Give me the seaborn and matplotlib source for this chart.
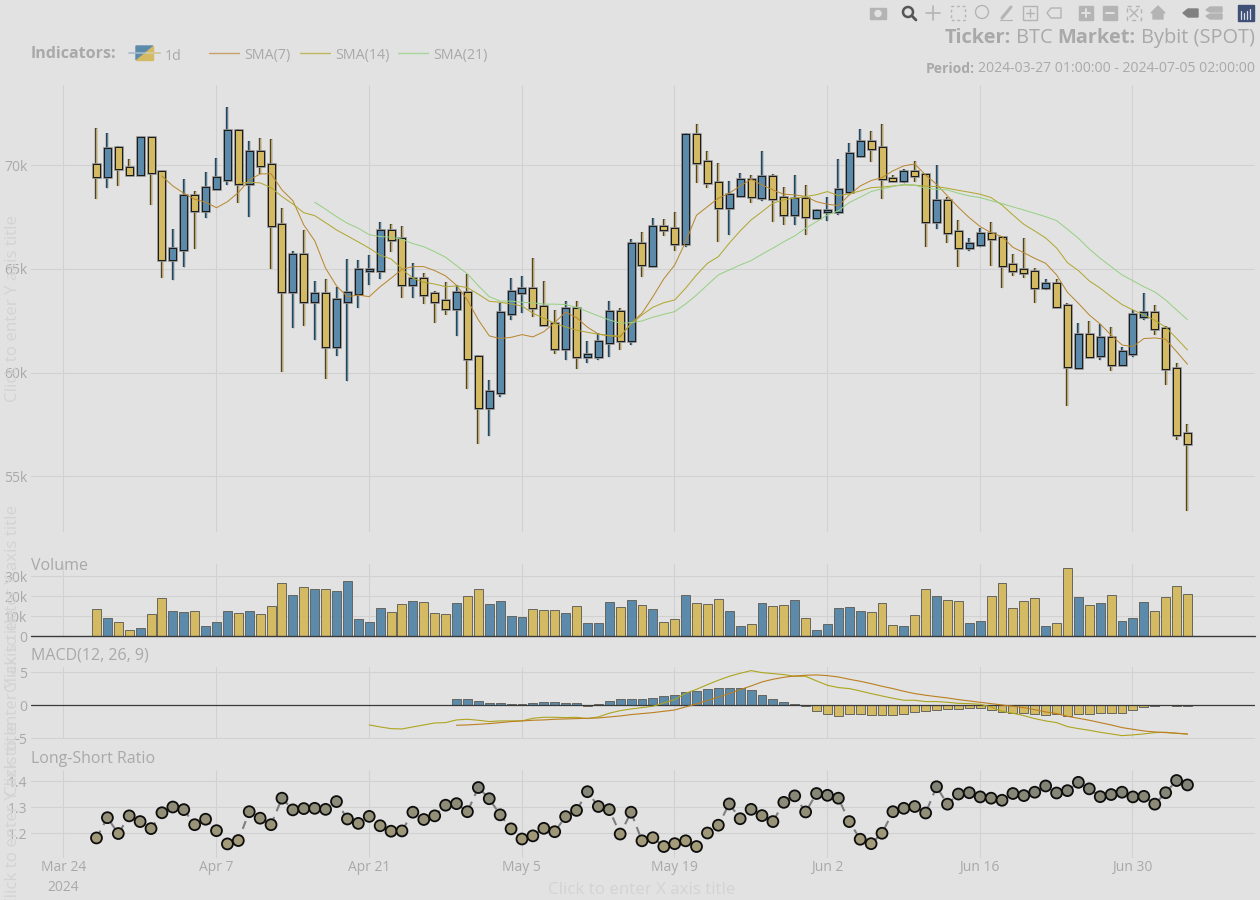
import matplotlib
matplotlib.use("Agg")
import matplotlib.pyplot as plt
import matplotlib.dates as mdates
import matplotlib.patheffects as pe
from matplotlib.colors import LinearSegmentedColormap
from matplotlib.patches import Polygon, Rectangle, Circle
import numpy as np
import pandas as pd
import seaborn as sns

# prices in thousands
opens = [70.06, 69.42, 70.87, 69.90, 69.55, 71.35, 69.71, 65.42, 65.91, 68.55,
         67.78, 68.84, 69.31, 71.69, 69.11, 70.69, 70.08, 67.15, 63.87, 65.72,
         63.39, 63.84, 61.22, 63.41, 63.78, 64.89, 64.89, 66.86, 66.48, 64.24,
         64.55, 63.83, 63.50, 63.07, 63.90, 60.80, 58.30, 59.00, 62.83, 63.84,
         64.07, 63.21, 62.38, 61.14, 63.13, 60.74, 60.77, 61.41, 62.99, 61.52,
         66.27, 65.16, 67.06, 66.96, 66.22, 71.50, 70.22, 69.21, 67.93, 68.52,
         69.34, 68.44, 69.48, 68.46, 67.59, 68.42, 67.47, 67.73, 67.73, 68.73,
         70.46, 71.17, 70.87, 69.40, 69.24, 69.71, 69.58, 67.28, 68.31, 66.82,
         66.00, 66.17, 66.72, 66.54, 65.22, 65.01, 64.92, 64.08, 64.31, 63.25,
         60.24, 61.85, 60.79, 61.73, 60.38, 60.91, 62.70, 62.94, 62.17, 60.24,
         57.10]
closes = [69.42, 70.85, 69.81, 69.55, 71.37, 69.61, 65.42, 66.01, 68.55, 67.78,
          68.94, 69.42, 71.69, 69.11, 70.69, 69.97, 67.07, 63.87, 65.72, 63.39,
          63.84, 61.22, 63.54, 63.87, 64.98, 65.01, 66.86, 66.38, 64.24, 64.55,
          63.73, 63.41, 63.07, 63.90, 60.64, 58.30, 59.09, 62.92, 63.95, 64.07,
          63.10, 62.28, 61.14, 63.13, 60.74, 60.88, 61.54, 62.99, 61.52, 66.27,
          65.19, 67.06, 66.86, 66.22, 71.51, 70.11, 69.13, 67.93, 68.62, 69.34,
          68.46, 69.48, 68.36, 67.59, 68.42, 67.49, 67.84, 67.83, 68.86, 70.59,
          71.17, 70.77, 69.32, 69.24, 69.71, 69.47, 67.28, 68.31, 66.72, 66.00,
          66.27, 66.72, 66.43, 65.13, 64.92, 64.82, 64.10, 64.31, 63.15, 60.26,
          61.85, 60.77, 61.73, 60.38, 61.03, 62.83, 62.94, 62.09, 60.16, 57.00,
          56.54]
highs = [71.78, 71.54, 70.93, 70.32, 71.38, 71.36, 69.72, 66.91, 69.32, 68.75,
         69.69, 70.34, 72.80, 71.77, 71.19, 71.32, 71.25, 67.93, 65.85, 66.86,
         64.40, 64.50, 64.11, 65.47, 65.43, 65.69, 67.25, 67.18, 67.07, 65.30,
         64.82, 63.92, 64.36, 64.21, 64.74, 60.85, 59.63, 63.34, 64.55, 64.65,
         65.51, 64.40, 63.01, 63.44, 63.45, 61.51, 61.90, 63.47, 63.10, 66.45,
         66.77, 67.44, 67.40, 67.73, 71.54, 71.99, 70.68, 70.10, 69.26, 69.61,
         69.55, 70.69, 69.58, 68.94, 69.52, 69.05, 67.88, 68.46, 70.29, 71.08,
         71.77, 71.65, 71.99, 69.55, 69.84, 70.22, 69.58, 70.03, 68.46, 67.38,
         66.48, 66.96, 67.28, 66.58, 65.72, 66.48, 65.06, 64.52, 64.50, 63.36,
         62.41, 62.47, 62.36, 62.21, 61.22, 63.03, 63.85, 63.28, 62.26, 60.48,
         57.54]
lows = [68.36, 68.92, 69.00, 69.55, 69.55, 68.07, 64.58, 64.45, 65.08, 65.96,
        67.47, 68.84, 69.04, 68.20, 67.52, 69.58, 65.01, 60.01, 62.14, 62.26,
        61.59, 59.68, 60.80, 59.58, 63.10, 64.24, 64.53, 65.80, 63.61, 63.61,
        63.32, 62.41, 62.76, 61.78, 59.19, 56.55, 56.95, 58.81, 62.55, 62.89,
        62.70, 62.28, 60.90, 60.62, 60.19, 60.48, 60.59, 60.75, 61.10, 61.35,
        64.61, 65.16, 66.58, 65.88, 66.07, 69.16, 68.90, 66.31, 66.62, 68.52,
        68.17, 68.26, 67.28, 67.13, 67.13, 66.65, 67.47, 67.30, 67.62, 68.60,
        70.40, 70.14, 68.39, 69.18, 69.16, 69.18, 66.04, 66.91, 66.27, 65.08,
        65.85, 66.04, 65.14, 64.07, 64.67, 64.56, 63.37, 63.97, 63.15, 58.39,
        60.24, 60.72, 60.61, 60.06, 60.38, 60.74, 62.54, 61.81, 59.39, 56.75,
        53.34]

sma_7 = [69.48, 69.00, 68.65, 68.36, 68.22, 67.95, 68.24, 68.68, 69.29, 69.58,
         69.59, 68.81, 68.29, 67.12, 66.36, 65.03, 64.18, 63.66, 63.74, 63.66,
         64.14, 64.55, 64.98, 65.11, 65.11, 64.92, 64.66, 64.21, 63.50, 62.54,
         61.77, 61.64, 61.70, 61.83, 61.72, 61.97, 62.41, 62.92, 62.65, 62.19,
         61.86, 61.77, 61.72, 62.38, 62.86, 63.66, 64.52, 65.19, 66.31, 67.59,
         68.00, 68.41, 68.65, 69.00, 69.32, 69.05, 68.81, 68.60, 68.57, 68.49,
         68.24, 68.12, 68.05, 68.57, 69.00, 69.26, 69.40, 69.73, 69.97, 70.06,
         69.53, 69.08, 68.52, 67.97, 67.47, 67.04, 66.75, 66.56, 66.04, 65.78,
         65.51, 65.27, 64.71, 63.87, 63.34, 62.78, 62.34, 61.81, 61.33, 61.25,
         61.64, 61.67, 61.61, 61.01, 60.40]
sma_14 = [69.12, 69.18, 69.15, 68.92, 68.49, 68.13, 67.71, 67.57, 67.23, 66.88,
          66.59, 66.30, 66.00, 65.66, 65.48, 65.00, 64.55, 64.36, 64.27, 64.14,
          64.18, 64.10, 63.78, 63.44, 63.39, 63.31, 63.21, 62.86, 62.62, 62.38,
          62.20, 62.05, 61.94, 61.85, 61.78, 61.77, 62.34, 62.78, 63.15, 63.37,
          63.50, 64.07, 64.71, 65.27, 65.59, 66.24, 66.83, 67.36, 67.76, 68.17,
          68.33, 68.41, 68.49, 68.58, 68.73, 68.53, 68.62, 68.76, 68.92, 68.95,
          69.00, 69.05, 69.04, 68.99, 68.97, 68.89, 68.79, 68.70, 68.60, 68.44,
          68.08, 67.60, 67.15, 66.83, 66.49, 66.01, 65.30, 64.92, 64.42, 64.07,
          63.66, 63.28, 63.02, 62.78, 62.52, 62.19, 61.65, 61.09]
sma_21 = [68.22, 67.88, 67.52, 67.20, 66.96, 66.65, 66.56, 66.53, 66.43, 66.22,
          66.07, 65.83, 65.56, 65.16, 64.76, 64.19, 63.66, 63.45, 63.44, 63.39,
          63.36, 63.30, 63.30, 63.28, 63.15, 62.94, 62.73, 62.54, 62.38, 62.41,
          62.49, 62.67, 62.81, 62.94, 63.31, 63.74, 64.23, 64.71, 64.95, 65.19,
          65.40, 65.71, 66.00, 66.31, 66.59, 66.96, 67.28, 67.60, 67.80, 68.20,
          68.46, 68.73, 68.86, 68.97, 69.08, 69.04, 68.89, 68.84, 68.81, 68.65,
          68.52, 68.44, 68.29, 68.15, 67.99, 67.84, 67.68, 67.52, 67.33, 66.91,
          66.48, 65.96, 65.51, 65.11, 64.71, 64.43, 64.14, 63.89, 63.50, 63.02,
          62.55]

volumes = [13.8, 9.2, 7.3, 3.2, 4.2, 11.3, 19.3, 12.5, 12.2, 12.8,
           5.2, 7.2, 12.5, 11.8, 12.5, 11.0, 15.3, 26.5, 20.8, 24.8,
           23.5, 23.8, 22.7, 27.8, 8.5, 7.0, 14.3, 12.3, 16.2, 17.5,
           17.0, 11.5, 11.0, 16.5, 20.2, 23.8, 16.2, 17.7, 10.2, 9.5,
           13.8, 13.0, 13.2, 11.8, 15.3, 6.5, 6.5, 17.2, 14.5, 18.3,
           15.8, 13.5, 7.3, 8.8, 20.5, 16.5, 16.0, 18.8, 12.5, 5.2,
           6.3, 16.5, 15.3, 15.8, 18.0, 9.0, 3.2, 6.0, 14.3, 14.5,
           12.8, 12.0, 16.5, 5.7, 5.0, 10.8, 23.5, 20.2, 18.3, 17.7,
           6.5, 7.7, 20.2, 26.5, 14.2, 17.7, 19.0, 5.0, 6.8, 34.3,
           19.5, 15.7, 16.7, 20.7, 7.8, 9.2, 17.0, 12.5, 19.8, 25.3,
           21.2]

macd_hist = [0.91, 0.91, 0.60, 0.30, 0.30, 0.25, 0.15, 0.40, 0.45, 0.45,
             0.40, 0.30, -0.05, 0.20, 0.60, 0.90, 1.00, 1.00, 1.15, 1.35,
             1.55, 2.05, 2.10, 2.40, 2.55, 2.60, 2.55, 2.30, 1.50, 0.90,
             0.45, 0.15, -0.15, -0.85, -1.35, -1.55, -1.35, -1.35, -1.40, -1.40,
             -1.40, -1.30, -0.95, -0.90, -0.65, -0.55, -0.55, -0.35, -0.45, -0.75,
             -1.05, -1.15, -1.20, -1.35, -1.40, -1.35, -1.55, -1.35, -1.25, -1.20,
             -1.20, -1.15, -0.75, -0.30, -0.05, 0.05, -0.05, -0.10]
macd_line = [-2.98, -3.28, -3.54, -3.59, -3.28, -2.98, -2.68, -2.63, -2.22, -2.12,
             -2.27, -2.47, -2.37, -2.37, -2.37, -1.97, -1.82, -1.82, -1.87, -1.82,
             -2.02, -1.77, -1.21, -0.81, -0.56, -0.35, -0.15, 0.35, 0.86, 1.82,
             2.42, 3.13, 3.79, 4.39, 4.85, 5.25, 4.95, 4.80, 4.65, 4.39,
             4.39, 3.69, 3.03, 2.68, 2.53, 2.17, 1.77, 1.41, 1.06, 0.76,
             0.76, 0.56, 0.56, 0.45, 0.30, 0.25, 0.15, -0.25, -0.91, -1.21,
             -1.57, -2.02, -2.37, -2.63, -3.23, -3.54, -3.79, -4.09, -4.34, -4.60,
             -4.49, -4.34, -4.14, -4.09, -4.24, -4.39]
macd_signal = [-3.03, -2.98, -2.88, -2.78, -2.63, -2.47, -2.37, -2.27, -2.22, -2.12,
               -2.07, -2.02, -1.97, -1.92, -1.77, -1.62, -1.41, -1.26, -1.11, -0.91,
               -0.71, -0.25, 0.20, 0.71, 1.26, 1.77, 2.37, 2.93, 3.54, 3.94,
               4.24, 4.44, 4.55, 4.60, 4.49, 4.29, 3.94, 3.64, 3.28, 2.88,
               2.53, 2.12, 1.77, 1.52, 1.31, 1.11, 0.86, 0.66, 0.45, 0.25,
               0.05, -0.15, -0.35, -0.66, -1.01, -1.26, -1.67, -1.97, -2.27, -2.63,
               -2.98, -3.38, -3.64, -3.89, -4.04, -4.14, -4.24, -4.34]

ls_ratio = [1.182, 1.260, 1.199, 1.267, 1.245, 1.218, 1.279, 1.301, 1.291, 1.233,
            1.254, 1.210, 1.159, 1.172, 1.283, 1.258, 1.233, 1.335, 1.290, 1.295,
            1.296, 1.292, 1.322, 1.255, 1.238, 1.265, 1.229, 1.208, 1.209, 1.281,
            1.253, 1.267, 1.308, 1.314, 1.283, 1.376, 1.333, 1.271, 1.217, 1.178,
            1.190, 1.219, 1.206, 1.264, 1.288, 1.360, 1.303, 1.291, 1.197, 1.281,
            1.171, 1.183, 1.149, 1.160, 1.171, 1.149, 1.201, 1.231, 1.313, 1.256,
            1.292, 1.268, 1.245, 1.319, 1.344, 1.282, 1.353, 1.346, 1.335, 1.245,
            1.177, 1.160, 1.200, 1.283, 1.296, 1.303, 1.278, 1.379, 1.312, 1.351,
            1.356, 1.340, 1.335, 1.327, 1.353, 1.345, 1.358, 1.382, 1.355, 1.364,
            1.396, 1.371, 1.341, 1.349, 1.358, 1.340, 1.342, 1.312, 1.356, 1.403,
            1.386]

tick_dates = ["2024-03-24", "2024-04-07", "2024-04-21", "2024-05-05",
              "2024-05-19", "2024-06-02", "2024-06-16", "2024-06-30"]
tick_labels = ["Mar 24\n2024", "Apr 7", "Apr 21", "May 5", "May 19", "Jun 2", "Jun 16", "Jun 30"]

BG = "#e2e2e2"
GRID = "#d1d1d1"
TEXT = "#a9a9a9"
FAINT = "#d3d3d3"
BLUE = "#5b8aab"
GOLD = "#d4ba62"
FONT = ["Open Sans", "DejaVu Sans"]

sns.set_theme(style="whitegrid", rc={
    "figure.facecolor": BG, "axes.facecolor": BG, "grid.color": GRID,
    "grid.linewidth": 0.75, "axes.edgecolor": BG, "savefig.facecolor": BG,
})
plt.rcParams["font.family"] = FONT

W, H = 1260, 900
fig = plt.figure(figsize=(W / 100, H / 100), dpi=100)


def pixel_axes(left, top, right, bottom):
    return fig.add_axes([left / W, 1 - bottom / H, (right - left) / W, (bottom - top) / H])


def pad(values):
    return [np.nan] * (len(opens) - len(values)) + list(values)


dates = pd.date_range("2024-03-27 01:00", periods=len(opens), freq="D")
x = mdates.date2num(dates)
xticks = mdates.date2num(pd.to_datetime(tick_dates))
day_px = 10.91
xlim = (xticks[0] - 32.3 / day_px, xticks[0] + 1191.7 / day_px)

ax_main = pixel_axes(31, 85, 1255, 532)
ax_vol = pixel_axes(31, 564, 1255, 636.3)
ax_macd = pixel_axes(31, 667, 1255, 738.6)
ax_ls = pixel_axes(31, 770, 1255, 857.7)

# candles
colors = [BLUE if c >= o else GOLD for o, c in zip(opens, closes)]
wick_colors = ["#2c4350" if c == BLUE else "#4a4330" for c in colors]
ax_main.vlines(x, lows, highs, colors=wick_colors, linewidth=1.7, zorder=2)
ax_main.vlines(x, lows, highs, colors=colors, linewidth=0.6, zorder=2.5)
bodies = ax_main.bar(x, np.array(closes) - np.array(opens), bottom=opens, width=7.0 / day_px,
                     color=colors, edgecolor="#1c1c1c", linewidth=0.75, zorder=3)
for b in bodies:
    b.set_path_effects([pe.withStroke(linewidth=1.9, foreground="#8f8f8f"), pe.Normal()])

sma_colors = ["#b8862f", "#b0a62f", "#96d083"]
for vals, col in zip([sma_7, sma_14, sma_21], sma_colors):
    sns.lineplot(x=x, y=pad(vals), color=col, linewidth=0.72, ax=ax_main, zorder=4)
ax_main.set_ylim(52.31, 73.87)
ax_main.set_yticks([55, 60, 65, 70], ["55k", "60k", "65k", "70k"])

# volume
vol_df = pd.DataFrame({"x": x, "v": volumes, "side": ["up" if c == BLUE else "down" for c in colors]})
sns.barplot(data=vol_df, x="x", y="v", hue="side", palette={"up": BLUE, "down": GOLD},
            native_scale=True, dodge=False, width=0.82, legend=False, ax=ax_vol,
            edgecolor="#66665e", linewidth=0.7, saturation=1)
ax_vol.set_ylim(0, 36.15)
ax_vol.set_yticks([0, 10, 20, 30], ["0", "10k", "20k", "30k"])
ax_vol.axhline(0, color="#3a3a3a", linewidth=1.0, zorder=6, clip_on=False)

# macd
hist_df = pd.DataFrame({"x": x[-len(macd_hist):], "h": macd_hist,
                        "side": ["up" if h >= 0 else "down" for h in macd_hist]})
sns.barplot(data=hist_df, x="x", y="h", hue="side", palette={"up": BLUE, "down": GOLD},
            native_scale=True, dodge=False, width=0.82, legend=False, ax=ax_macd,
            edgecolor="#66665e", linewidth=0.7, saturation=1)
sns.lineplot(x=x, y=pad(macd_line), color="#aca51f", linewidth=0.8, ax=ax_macd, zorder=5)
sns.lineplot(x=x, y=pad(macd_signal), color="#bb7f20", linewidth=0.8, ax=ax_macd, zorder=5)
ax_macd.axhline(0, color="#3a3a3a", linewidth=0.9, zorder=4)
ax_macd.set_ylim(-5.05, 5.8)
ax_macd.set_yticks([-5, 0, 5], ["\u22125", "0", "5"])

# long-short ratio
ls_cmap = LinearSegmentedColormap.from_list("ls", ["#a49b78", "#838478"])
ax_ls.plot(x, ls_ratio, color="#7f7f7f", linewidth=1.5, linestyle=(0, (4, 3)), zorder=2)
sns.scatterplot(x=x, y=ls_ratio, hue=ls_ratio, palette=ls_cmap, hue_norm=(1.16, 1.38), s=62,
                edgecolor="#0d0d0d", linewidth=1.3, legend=False, ax=ax_ls, zorder=3)
ax_ls.set_ylim(1.106, 1.4435)
ax_ls.set_yticks([1.2, 1.3, 1.4], ["1.2", "1.3", "1.4"])

for ax in [ax_main, ax_vol, ax_macd, ax_ls]:
    ax.set_xlim(*xlim)
    ax.set_xticks(xticks)
    ax.set_xlabel("")
    ax.set_ylabel("")
    ax.grid(True, color=GRID, linewidth=0.75)
    ax.set_axisbelow(True)
    ax.tick_params(length=0, labelsize=10, labelcolor=TEXT, pad=2.5, labelbottom=False)
    sns.despine(ax=ax, left=True, bottom=True)
ax_ls.tick_params(labelbottom=True)
ax_ls.set_xticklabels(tick_labels, linespacing=1.4)
ax_ls.tick_params(axis="x", pad=2)

# everything around the plots, in pixel coordinates
deco = fig.add_axes([0, 0, 1, 1], zorder=10)
deco.set_xlim(0, W)
deco.set_ylim(H, 0)
deco.axis("off")
deco.patch.set_alpha(0)

for label, top in [("Volume", 566), ("MACD(12, 26, 9)", 656), ("Long-Short Ratio", 759)]:
    deco.text(31, top, label, color=TEXT, fontsize=11.5, va="center", ha="left")

for cy in [308, 599, 703, 814]:
    deco.text(13, cy, "Click to enter Y axis title", color=FAINT, fontsize=12.2,
              rotation=90, va="center", ha="center")
deco.text(642, 890, "Click to enter X axis title", color=FAINT, fontsize=12.2, va="center", ha="center")

renderer = fig.canvas.get_renderer()


def right_text(right, y, parts, size):
    pos = right
    for txt, weight in reversed(parts):
        t = deco.text(pos, y, txt, color=TEXT, fontsize=size, fontweight=weight, ha="right",
                      va="center", zorder=3)
        ext = t.get_window_extent(renderer)
        pos -= ext.width + size * 0.36


right_text(1255, 38, [("Ticker:", "bold"), ("BTC", "normal"), ("Market:", "bold"), ("Bybit (SPOT)", "normal")], 14.4)
right_text(1255, 69, [("Period:", "bold"), ("2024-03-27 01:00:00 - 2024-07-05 02:00:00", "normal")], 10.1)

deco.text(31, 54, "Indicators:", color=TEXT, fontsize=11.5, fontweight="bold", va="center")
deco.plot([129, 160], [53, 53], color="#a5bccb", linewidth=1.2)
deco.plot([146, 160], [53, 53], color="#dccb95", linewidth=1.2)
deco.add_patch(Polygon([[136, 46], [153, 46], [136, 60]], color=BLUE))
deco.add_patch(Polygon([[153, 46], [153, 60], [136, 60]], color=GOLD))
deco.text(165, 56, "1d", color=TEXT, fontsize=10.3, va="center")
for x0, name, col in [(209, "SMA(7)", "#c4a06a"), (300, "SMA(14)", "#bfb75a"), (398, "SMA(21)", "#a9d69c")]:
    deco.plot([x0, x0 + 30], [53, 53], color=col, linewidth=1.0)
    deco.text(x0 + 35, 56, name, color=TEXT, fontsize=10.3, va="center")

# modebar, rough shapes
ICON = "#b4b4b4"
deco.add_patch(Rectangle((870, 8), 16, 11, color=ICON))
deco.add_patch(Circle((878, 13.5), 3, color=BG))
deco.add_patch(Circle((908, 12), 5, fill=False, edgecolor="#555555", linewidth=1.8))
deco.plot([912, 916], [16, 20], color="#555555", linewidth=2)
deco.plot([926, 940], [13, 13], color=ICON, linewidth=1.2)
deco.plot([933, 933], [6, 20], color=ICON, linewidth=1.2)
deco.add_patch(Rectangle((951, 6), 14, 14, fill=False, edgecolor=ICON, linewidth=1, linestyle=(0, (2, 2))))
deco.add_patch(Circle((982, 12), 6.5, fill=False, edgecolor=ICON, linewidth=1))
deco.plot([1000, 1012], [20, 20], color=ICON, linewidth=0.8)
deco.plot([1002, 1011], [18, 7], color=ICON, linewidth=2.2)
deco.add_patch(Rectangle((1023, 6), 14, 14, fill=False, edgecolor=ICON, linewidth=1))
deco.plot([1026, 1034], [13, 13], color=ICON, linewidth=1)
deco.plot([1030, 1030], [9, 17], color=ICON, linewidth=1)
deco.add_patch(Polygon([[1047, 13], [1051, 8], [1061, 8], [1061, 18], [1051, 18]], fill=False, edgecolor=ICON, linewidth=1))
for cx, vertical in [(1086, True), (1110, False)]:
    deco.add_patch(Rectangle((cx - 7, 6), 14, 14, color=ICON))
    deco.plot([cx - 4, cx + 4], [13, 13], color=BG, linewidth=1.4)
    if vertical:
        deco.plot([cx, cx], [9, 17], color=BG, linewidth=1.4)
deco.add_patch(Rectangle((1127, 6), 14, 14, fill=False, edgecolor=ICON, linewidth=1, linestyle=(0, (3, 3))))
deco.plot([1130, 1138], [9, 17], color=ICON, linewidth=1)
deco.plot([1130, 1138], [17, 9], color=ICON, linewidth=1)
deco.add_patch(Polygon([[1151, 13], [1158, 6], [1165, 13], [1163, 13], [1163, 19], [1153, 19], [1153, 13]], color=ICON))
deco.add_patch(Polygon([[1183, 13], [1188, 9], [1198, 9], [1198, 17], [1188, 17]], color="#808080"))
deco.add_patch(Polygon([[1206, 10], [1210, 7], [1222, 7], [1222, 12], [1210, 12]], color=ICON))
deco.add_patch(Polygon([[1206, 16], [1210, 14], [1222, 14], [1222, 19], [1210, 19]], color=ICON))
deco.add_patch(Rectangle((1238, 5), 16, 16, color="#3f4f75"))
for lx, ly in [(1241, 11), (1244, 13), (1247, 11), (1250, 9)]:
    deco.plot([lx, lx], [ly, 19], color="#d8dde8", linewidth=0.9)

fig.savefig("out.png", dpi=100, facecolor=BG)
